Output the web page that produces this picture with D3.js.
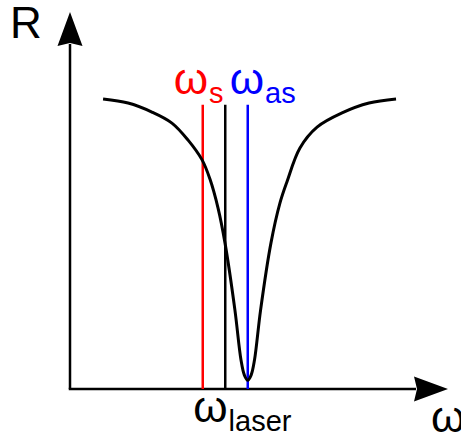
<!DOCTYPE html>
<html>
<head>
<meta charset="utf-8">
<script src="https://cdn.jsdelivr.net/npm/d3@7"></script>
<style>
  html, body { margin: 0; padding: 0; background: #fff; }
  svg { display: block; }
  text { font-family: "Liberation Sans", Arial, sans-serif; }
</style>
</head>
<body>
<svg id="chart" width="461" height="439"></svg>
<script>
// Reflectivity dip R(ω) around the anti-Stokes frequency (frequency in units of the Stokes shift)
const omega = [-5.43, -4.32, -3.26, -2.37, -1.66, -1.03, -0.68, -0.32, -0.01, 0.43, 0.7, 0.85, 1.0,
               1.15, 1.3, 1.57, 2.03, 2.43, 2.74, 3.32, 4.08, 5.19, 6.39, 7.59];
const reflect = [1.0, 0.986, 0.955, 0.917, 0.859, 0.79, 0.724, 0.624, 0.503, 0.272, 0.1, 0.048, 0.03,
                 0.048, 0.1, 0.272, 0.503, 0.641, 0.714, 0.831, 0.903, 0.952, 0.986, 1.0];

// Marked frequencies: Stokes, laser, anti-Stokes
const markNames = ["s", "laser", "as"];
const markOmega = [-1, 0, 1];
const markColors = ["#ff0000", "#000000", "#0000ff"];
const markTop = 0.98;

const axisDomainX = [-6.9, 9.9];
const axisDomainY = [0, 1.3];

const svg = d3.select("#chart");
const x = d3.scaleLinear().domain(axisDomainX).range([70, 448]);
const y = d3.scaleLinear().domain(axisDomainY).range([389, 12]);

const x0 = x(axisDomainX[0]), y0 = y(0);
const xTip = x(axisDomainX[1]), yTip = y(axisDomainY[1]);
const headLen = 34, headHalf = 12.5, notch = 3;

// Axes with arrowheads
svg.append("line").attr("x1", x0).attr("y1", y0).attr("x2", x0).attr("y2", yTip + headLen - 2)
  .attr("stroke", "#000").attr("stroke-width", 2.5);
svg.append("path")
  .attr("d", `M${x0},${yTip} L${x0 + headHalf},${yTip + headLen} L${x0},${yTip + headLen - notch} L${x0 - headHalf},${yTip + headLen} Z`)
  .attr("fill", "#000");
svg.append("line").attr("x1", x0 - 1.25).attr("y1", y0).attr("x2", xTip - headLen + 2).attr("y2", y0)
  .attr("stroke", "#000").attr("stroke-width", 2.5);
svg.append("path")
  .attr("d", `M${xTip},${y0} L${xTip - headLen},${y0 - headHalf} L${xTip - headLen + notch},${y0} L${xTip - headLen},${y0 + headHalf} Z`)
  .attr("fill", "#000");

// Axis titles
svg.append("text").attr("x", 10).attr("y", 38).attr("font-size", 44).text("R");
svg.append("text").attr("x", 431).attr("y", 432).attr("font-size", 44).text("ω");

// Vertical frequency markers
svg.selectAll("line.mark").data(markOmega).join("line")
  .attr("class", "mark")
  .attr("x1", d => x(d)).attr("x2", d => x(d))
  .attr("y1", y(markTop)).attr("y2", y0)
  .attr("stroke", (d, i) => markColors[i]).attr("stroke-width", 2.5);

// Curve
const pts = omega.map((w, i) => [w, reflect[i]]);
svg.append("path")
  .datum(pts)
  .attr("fill", "none").attr("stroke", "#000").attr("stroke-width", 3)
  .attr("d", d3.line().x(d => x(d[0])).y(d => y(d[1])).curve(d3.curveCatmullRom.alpha(0.5)));

// Marker labels
function omegaLabel(px, py, sub, color) {
  const t = svg.append("text").attr("x", px).attr("y", py).attr("fill", color);
  t.append("tspan").attr("font-size", 44).text("ω");
  t.append("tspan").attr("font-size", 29).attr("dx", 1).attr("dy", 9).text(sub);
}
omegaLabel(x(markOmega[0]) - 29, 94, markNames[0], markColors[0]);
omegaLabel(x(markOmega[2]) - 18, 94, markNames[2], markColors[2]);
omegaLabel(x(markOmega[1]) - 32, 422, markNames[1], markColors[1]);
</script>
</body>
</html>
